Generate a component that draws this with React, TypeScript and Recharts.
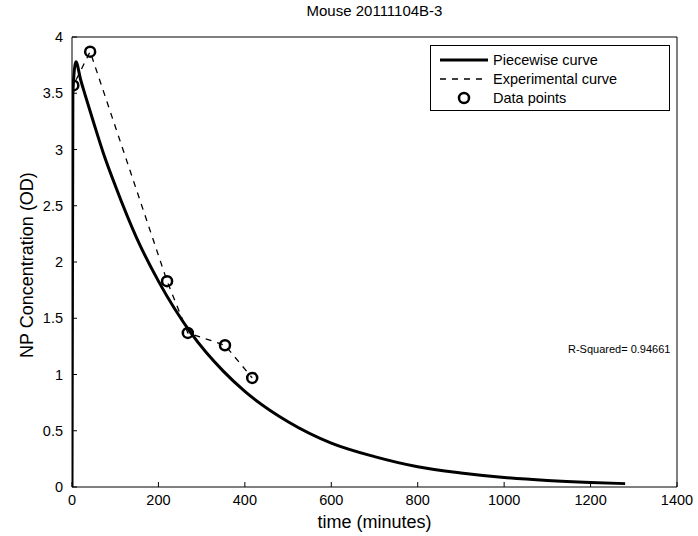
import React from "react";
import { ComposedChart, Line, Scatter, XAxis, YAxis } from "recharts";

const timeTicks = [0, 200, 400, 600, 800, 1000, 1200, 1400];
const concTicks = [0, 0.5, 1, 1.5, 2, 2.5, 3, 3.5, 4];

// piecewise (fitted) curve
const piecewiseTime = [0, 2, 9, 20, 30, 50, 75, 100, 150, 200, 275, 350, 400, 500, 600, 700, 800, 900, 1000, 1100, 1200, 1280];
const piecewiseConc = [0, 3.5, 3.78, 3.62, 3.49, 3.24, 2.94, 2.68, 2.21, 1.83, 1.37, 1.03, 0.85, 0.58, 0.39, 0.27, 0.18, 0.125, 0.085, 0.058, 0.04, 0.03];

// experimental curve (dashed)
const expTime = [0, 3, 42, 220, 268, 354, 417];
const expConc = [0, 3.57, 3.87, 1.83, 1.37, 1.26, 0.97];

// measured points
const pointTime = [3, 42, 220, 268, 354, 417];
const pointConc = [3.57, 3.87, 1.83, 1.37, 1.26, 0.97];

const FONT = "'Liberation Sans', Arial, Helvetica, sans-serif";

const piecewiseData = piecewiseTime.map((t, i) => ({ t, c: piecewiseConc[i] }));
const expData = expTime.map((t, i) => ({ t, c: expConc[i] }));
const pointData = pointTime.map((t, i) => ({ t, c: pointConc[i] }));

const tickStyle = { fill: "#000", fontSize: 14.5, fontFamily: FONT };

const RingDot = (props: any) => {
  const { cx, cy } = props;
  return <circle cx={cx} cy={cy} r={5} fill="none" stroke="#000" strokeWidth={2.5} />;
};

const LegendBox = () => (
  <svg width={240} height={66} style={{ position: "absolute", left: 430, top: 45 }}>
    <rect x={0.5} y={0.5} width={239} height={65} fill="#fff" stroke="#000" strokeWidth={1} />
    <line x1={10} x2={58} y1={15} y2={15} stroke="#000" strokeWidth={3} />
    <text x={63} y={20} fontSize={14.5} fontFamily={FONT} fill="#000">Piecewise curve</text>
    <line x1={10} x2={58} y1={34} y2={34} stroke="#000" strokeWidth={1.3} strokeDasharray="6 6" />
    <text x={63} y={39} fontSize={14.5} fontFamily={FONT} fill="#000">Experimental curve</text>
    <circle cx={34} cy={53} r={5} fill="none" stroke="#000" strokeWidth={2.5} />
    <text x={63} y={58} fontSize={14.5} fontFamily={FONT} fill="#000">Data points</text>
  </svg>
);

export default function App() {
  return (
    <div style={{ position: "absolute", left: 0, top: 0, width: 698, height: 536, background: "#fff", fontFamily: FONT }}>
      <ComposedChart width={698} height={536} margin={{ top: 36, right: 20, bottom: 0, left: 0 }}>
        <XAxis
          xAxisId="main"
          dataKey="t"
          type="number"
          domain={[0, 1400]}
          ticks={timeTicks}
          height={49}
          tickSize={-5}
          tickMargin={13}
          tick={tickStyle}
          stroke="#000"
          allowDataOverflow
        />
        <XAxis
          xAxisId="top"
          orientation="top"
          dataKey="t"
          type="number"
          domain={[0, 1400]}
          ticks={timeTicks}
          height={1}
          tickSize={-5}
          tick={false}
          stroke="#000"
          allowDataOverflow
        />
        <YAxis
          yAxisId="main"
          dataKey="c"
          type="number"
          domain={[0, 4]}
          ticks={concTicks}
          width={72}
          tickSize={-5}
          tickMargin={14}
          tick={tickStyle}
          stroke="#000"
          allowDataOverflow
        />
        <YAxis
          yAxisId="right"
          orientation="right"
          dataKey="c"
          type="number"
          domain={[0, 4]}
          ticks={concTicks}
          width={1}
          tickSize={-5}
          tick={false}
          stroke="#000"
          allowDataOverflow
        />
        {/* invisible series so the top/right frame axes get drawn */}
        <Line
          xAxisId="top"
          yAxisId="right"
          data={pointData}
          dataKey="c"
          stroke="transparent"
          dot={false}
          activeDot={false}
          isAnimationActive={false}
        />
        <Line
          xAxisId="main"
          yAxisId="main"
          data={expData}
          dataKey="c"
          stroke="#000"
          strokeWidth={1.3}
          strokeDasharray="6 6"
          dot={false}
          isAnimationActive={false}
        />
        <Scatter
          xAxisId="main"
          yAxisId="main"
          data={pointData}
          shape={RingDot}
          isAnimationActive={false}
        />
        <Line
          xAxisId="main"
          yAxisId="main"
          type="monotone"
          data={piecewiseData}
          dataKey="c"
          stroke="#000"
          strokeWidth={3}
          dot={false}
          isAnimationActive={false}
        />
      </ComposedChart>
      <LegendBox />
      <div style={{ position: "absolute", left: 0, width: 749, top: 2, textAlign: "center", fontSize: 15 }}>
        Mouse 20111104B-3
      </div>
      <div style={{ position: "absolute", left: 0, width: 749, top: 512, textAlign: "center", fontSize: 18 }}>
        time (minutes)
      </div>
      <div
        style={{
          position: "absolute",
          left: 27,
          top: 265,
          fontSize: 18,
          whiteSpace: "nowrap",
          transform: "translate(-50%, -50%) rotate(-90deg)",
        }}
      >
        NP Concentration (OD)
      </div>
      <div style={{ position: "absolute", left: 568, top: 343, fontSize: 11, whiteSpace: "nowrap" }}>
        R-Squared= 0.94661
      </div>
    </div>
  );
}
